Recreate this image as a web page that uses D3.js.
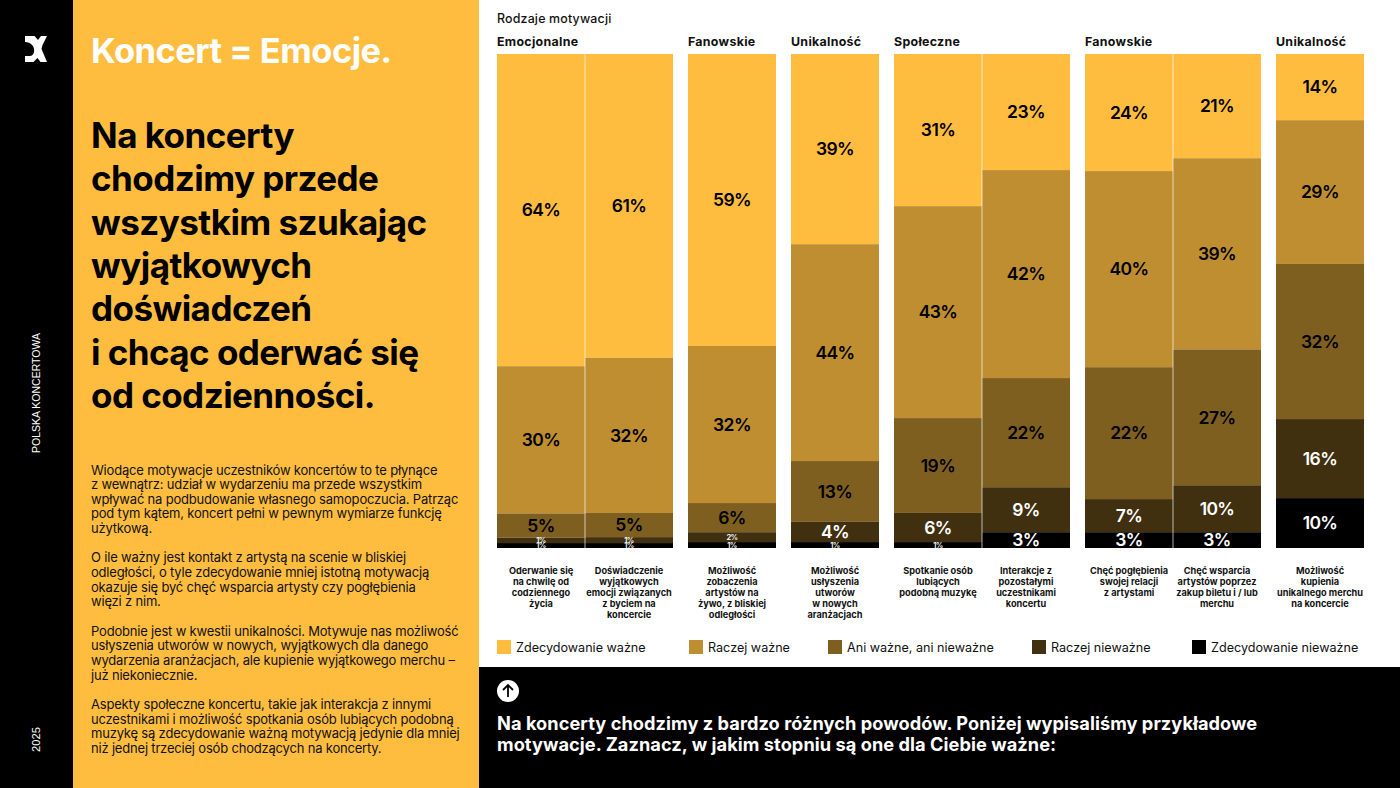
<!DOCTYPE html>
<html lang="pl"><head><meta charset="utf-8">
<script src="https://cdn.jsdelivr.net/npm/d3@7"></script>
<style>html,body{margin:0;padding:0;background:#fff;overflow:hidden}svg{display:block}text{font-family:Inter,"Noto Sans",sans-serif}</style>
</head><body><svg id="c" width="1400" height="788" viewBox="0 0 1400 788"></svg>
<script>
// ---------- data ----------
const levels = ["Zdecydowanie ważne","Raczej ważne","Ani ważne, ani nieważne","Raczej nieważne","Zdecydowanie nieważne"];
const colors = ["#FFBD40","#BF8E30","#7F5F20","#403010","#000000"];
const groupNames = ["Emocjonalne","Fanowskie","Unikalność","Społeczne","Fanowskie","Unikalność"];
const groupSizes = [2,1,1,2,2,1];
const categories = [
 ["Oderwanie się","na chwilę od","codziennego","życia"],
 ["Doświadczenie","wyjątkowych","emocji związanych","z byciem na","koncercie"],
 ["Możliwość","zobaczenia","artystów na","żywo, z bliskiej","odległości"],
 ["Możliwość","usłyszenia","utworów","w nowych","aranżacjach"],
 ["Spotkanie osób","lubiących","podobną muzykę"],
 ["Interakcje z","pozostałymi","uczestnikami","koncertu"],
 ["Chęć pogłębienia","swojej relacji","z artystami"],
 ["Chęć wsparcia","artystów poprzez","zakup biletu i / lub","merchu"],
 ["Możliwość","kupienia","unikalnego merchu","na koncercie"]
];
// segment shares (%)
const zdecWazne   = [63.2,61.5,59.1,38.5,30.8,23.5,23.7,21.1,13.4];
const raczejWazne = [29.8,31.4,31.8,43.9,42.9,42.1,39.7,38.7,29.1];
const aniAni      = [ 4.9, 4.9, 5.9,12.3,19.2,22.1,26.7,27.5,31.4];
const raczejNie   = [ 1.1, 1.2, 2.0, 4.1, 5.9, 9.1, 6.7, 9.5,16.0];
const zdecNie     = [ 1.0, 1.0, 1.2, 1.2, 1.2, 3.2, 3.2, 3.2,10.1];
// printed labels (%)
const lab1 = [64,61,59,39,31,23,24,21,14];
const lab2 = [30,32,32,44,43,42,40,39,29];
const lab3 = [5,5,6,13,19,22,22,27,32];
const lab4 = [1,1,2,4,6,9,7,10,16];
const lab5 = [1,1,1,1,1,3,3,3,10];
const series = [zdecWazne,raczejWazne,aniAni,raczejNie,zdecNie];
const labels = [lab1,lab2,lab3,lab4,lab5];
const pageTitle = "Koncert = Emocje.";
const headline = ["Na koncerty","chodzimy przede","wszystkim szukając","wyjątkowych","doświadczeń","i chcąc oderwać się","od codzienności."];
const body = [
 ["Wiodące motywacje uczestników koncertów to te płynące","z wewnątrz: udział w wydarzeniu ma przede wszystkim","wpływać na podbudowanie własnego samopoczucia. Patrząc","pod tym kątem, koncert pełni w pewnym wymiarze funkcję","użytkową."],
 ["O ile ważny jest kontakt z artystą na scenie w bliskiej","odległości, o tyle zdecydowanie mniej istotną motywacją","okazuje się być chęć wsparcia artysty czy pogłębienia","więzi z nim."],
 ["Podobnie jest w kwestii unikalności. Motywuje nas możliwość","usłyszenia utworów w nowych, wyjątkowych dla danego","wydarzenia aranżacjach, ale kupienie wyjątkowego merchu –","już niekoniecznie."],
 ["Aspekty społeczne koncertu, takie jak interakcja z innymi","uczestnikami i możliwość spotkania osób lubiących podobną","muzykę są zdecydowanie ważną motywacją jedynie dla mniej","niż jednej trzeciej osób chodzących na koncerty."]
];
const question = ["Na koncerty chodzimy z bardzo różnych powodów. Poniżej wypisaliśmy przykładowe","motywacje. Zaznacz, w jakim stopniu są one dla Ciebie ważne:"];

// ---------- page ----------
const svg = d3.select("#c");
const rect=(x,y,w,h,f)=>svg.append("rect").attr("x",x).attr("y",y).attr("width",w).attr("height",h).attr("fill",f);
const txt=(s,x,y,size,weight,fill,ls=0,anchor="start")=>svg.append("text").text(s).attr("x",x).attr("y",y)
  .attr("font-size",size).attr("font-weight",weight).attr("fill",fill).attr("letter-spacing",ls).attr("text-anchor",anchor);
rect(0,0,1400,788,"#fff");
rect(0,0,73,788,"#000");
rect(73,0,406,788,"#FFBD40");
rect(479,667,921,121,"#000");

// logo
svg.append("path").attr("fill","#fff").attr("transform","translate(25,36)")
 .attr("d","M0 0H9.500L13 4L16 0H22L17.500 9L16.500 13L22 26H15.500L12.500 22L8.500 26H0V20H5C8.500 19.500 9.500 16.500 9 13C8.500 9.500 6 6.500 0 6Z");

// side labels
[["POLSKA KONCERTOWA",453,10.5],["2025",752,11.2]].forEach(([s,y,fs])=>{
  svg.append("text").text(s).attr("transform",`translate(40,${y}) rotate(-90)`)
    .attr("font-size",fs).attr("fill","#fff").style("font-family","'Liberation Sans',Arial,sans-serif");
});

// left text
txt(pageTitle,91,63,34.5,700,"#fff",-.52);
const headY=d3.scaleLinear().domain([0,6]).range([148,408]);
headline.forEach((s,i)=>txt(s,91,headY(i),35,700,"#000",-.55));
let yy=474.5;
body.forEach(p=>{p.forEach(s=>{txt(s,91,yy,13,400,"#111",-.19);yy+=14.66;});yy+=14.66;});

// question
svg.append("circle").attr("cx",508).attr("cy",691).attr("r",11).attr("fill","#fff");
svg.append("path").attr("d","M508 697V685M503 690L508 685L513 690").attr("fill","none").attr("stroke","#000").attr("stroke-width",1.8);
question.forEach((s,i)=>txt(s,497,730+i*21,18.2,700,"#fff",.06));

// ---------- chart ----------
const gapUnits=15/88;
const starts=[];
let u=0; const groupStart=[];
groupSizes.forEach(n=>{groupStart.push(u);for(let i=0;i<n;i++){starts.push(u);u+=1;}u+=gapUnits;});
const x=d3.scaleLinear().domain([0,u-gapUnits]).range([497,1364]);
const y=d3.scaleLinear().domain([0,100]).range([54,548]);

const rows=categories.map((c,i)=>{const r={i};levels.forEach((l,k)=>r[l]=series[k][i]);return r;});
const stacked=d3.stack().keys(levels).offset(d3.stackOffsetExpand)(rows);
const g=svg.append("g");
stacked.forEach((ser,k)=>{
  const sg=g.append("g").attr("fill",colors[k]);
  sg.selectAll("rect").data(ser).join("rect")
    .attr("x",d=>x(starts[d.data.i])).attr("width",d=>x(1)-x(0))
    .attr("y",d=>y(d[0]*100)).attr("height",d=>y(d[1]*100)-y(d[0]*100));
});
// thin separators between neighbouring bars of a group
starts.forEach((s,i)=>{ if(i&&s-starts[i-1]===1)
  g.append("line").attr("x1",x(s)).attr("x2",x(s)).attr("y1",y(0)).attr("y2",y(100)).attr("stroke","#fff").attr("stroke-opacity",.75).attr("stroke-width",.9);});
// value labels
stacked.forEach((ser,k)=>{
  g.append("g").selectAll("text").data(ser).join("text")
   .attr("x",d=>x(starts[d.data.i]+.5)).attr("y",d=>y((d[0]+d[1])*50))
   .attr("dy",".36em").attr("text-anchor","middle")
   .attr("font-weight",600)
   .attr("letter-spacing",-.6)
   .attr("font-size",d=>labels[k][d.data.i]<=2&&k>=3?7.5:17.5)
   .attr("fill",k>=3?"#fff":"#000")
   .text(d=>labels[k][d.data.i]+"%");
});
// headings
txt("Rodzaje motywacji",497,23,12.4,500,"#111",.18);
groupNames.forEach((n,i)=>txt(n,x(groupStart[i]),45.500,12.4,700,"#111",.3));
// category labels
categories.forEach((lines,i)=>{
  lines.forEach((s,j)=>txt(s,x(starts[i]+.5),573.5+j*11,9.2,700,"#111",0,"middle"));
});
// legend
const legendX=[497,689,828,1032,1192];
levels.forEach((l,k)=>{
  rect(legendX[k],640,14,14,colors[k]);
  txt(l,legendX[k]+19,652,12.6,400,"#111",0);
});
</script></body></html>
